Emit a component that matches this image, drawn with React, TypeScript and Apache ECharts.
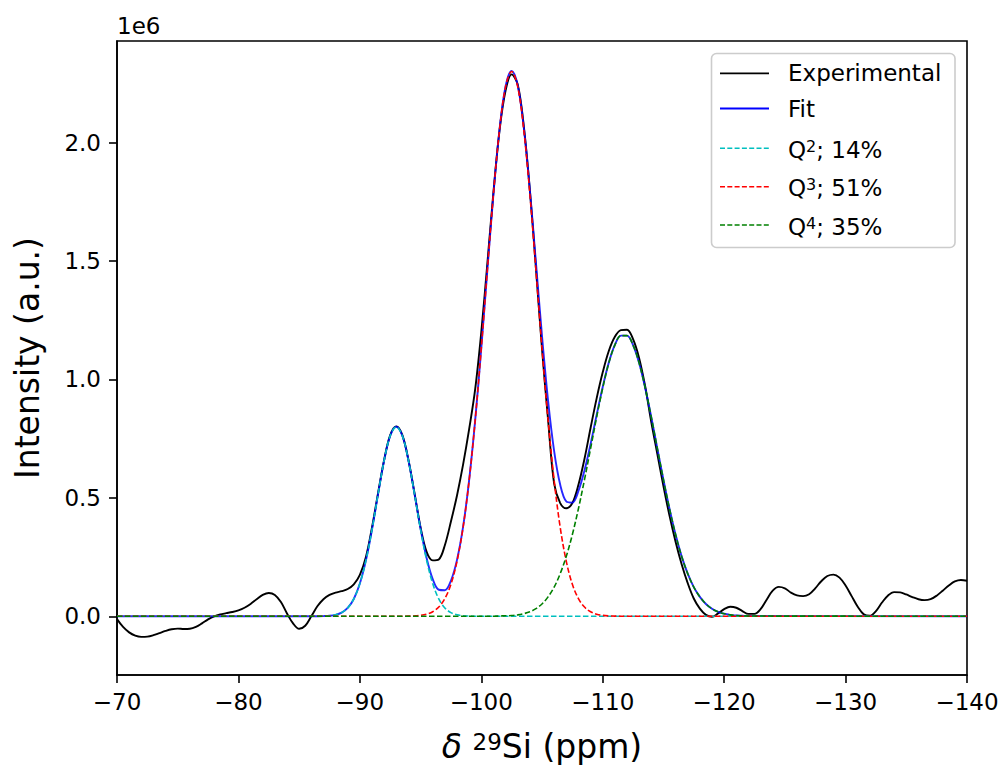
import React, { useEffect, useRef } from "react";
import * as echarts from "echarts";

// Chemical shift grid used by the fit and the three components (ppm)
const fitPpm = [
  -70, -86, -86.5, -87, -87.5, -88, -88.5, -89, -89.5, -90, -90.5, -91, -91.5, -92, -92.5,
  -93, -93.5, -94, -94.5, -95, -95.5, -96, -96.5, -97, -97.5, -98, -98.5, -99, -99.5,
  -100, -100.5, -101, -101.5, -102, -102.5, -103, -103.5, -104, -104.5, -105, -105.5,
  -106, -106.5, -107, -107.5, -108, -108.5, -109, -109.5, -110, -110.5, -111, -111.5,
  -112, -112.5, -113, -113.5, -114, -114.5, -115, -115.5, -116, -116.5, -117, -117.5,
  -118, -118.5, -119, -119.5, -120, -120.5, -121, -121.5, -122, -140,
];

// Q2 component (x1e6)
const q2 = [
  0, 0, 0.0002, 0.0007, 0.0022, 0.0061, 0.0153, 0.035, 0.073, 0.138, 0.236, 0.366, 0.516, 0.658, 0.762,
  0.8, 0.762, 0.658, 0.516, 0.366, 0.236, 0.138, 0.073, 0.035, 0.0153, 0.0061, 0.0022, 0.0007, 0.0002,
  0, 0, 0, 0, 0, 0, 0, 0, 0, 0, 0, 0,
  0, 0, 0, 0, 0, 0, 0, 0, 0, 0, 0, 0,
  0, 0, 0, 0, 0, 0, 0, 0, 0, 0, 0, 0,
  0, 0, 0, 0, 0, 0, 0, 0, 0, 0,
];

// Q3 component (x1e6)
const q3 = [
  0, 0, 0, 0, 0, 0, 0, 0, 0, 0, 0, 0, 0, 0, 0,
  0, 0, 0.0006, 0.0016, 0.0039, 0.0089, 0.0191, 0.0388, 0.0745, 0.135, 0.232, 0.375, 0.574, 0.829,
  1.132, 1.461, 1.782, 2.053, 2.236, 2.3, 2.236, 2.053, 1.782, 1.461, 1.132, 0.829,
  0.574, 0.375, 0.232, 0.135, 0.0745, 0.0388, 0.0191, 0.0089, 0.0039, 0.0016, 0.0006, 0,
  0, 0, 0, 0, 0, 0, 0, 0, 0, 0, 0, 0,
  0, 0, 0, 0, 0, 0, 0, 0, 0, 0,
];

// Q4 component (x1e6)
const q4 = [
  0, 0, 0, 0, 0, 0, 0, 0, 0, 0, 0, 0, 0, 0, 0,
  0, 0, 0, 0, 0, 0, 0, 0, 0, 0, 0, 0, 0, 0,
  0, 0, 0, 0.001, 0.002, 0.003, 0.006, 0.011, 0.019, 0.032, 0.052, 0.082,
  0.123, 0.18, 0.253, 0.345, 0.454, 0.577, 0.708, 0.841, 0.964, 1.069, 1.145, 1.185,
  1.185, 1.145, 1.069, 0.964, 0.841, 0.708, 0.577, 0.454, 0.345, 0.253, 0.18, 0.123,
  0.082, 0.052, 0.032, 0.019, 0.011, 0.006, 0.003, 0.002, 0.001, 0,
];

// Total fit (x1e6)
const fit = [
  0, 0, 0.0002, 0.0007, 0.0022, 0.0061, 0.0153, 0.035, 0.073, 0.138, 0.236, 0.366, 0.516, 0.658, 0.762,
  0.8, 0.762, 0.659, 0.518, 0.37, 0.245, 0.157, 0.112, 0.11, 0.15, 0.238, 0.377, 0.575, 0.829,
  1.132, 1.461, 1.782, 2.054, 2.238, 2.303, 2.242, 2.064, 1.801, 1.493, 1.184, 0.911,
  0.697, 0.555, 0.485, 0.48, 0.529, 0.616, 0.727, 0.85, 0.968, 1.071, 1.146, 1.185,
  1.185, 1.145, 1.069, 0.964, 0.841, 0.708, 0.577, 0.454, 0.345, 0.253, 0.18, 0.123,
  0.082, 0.052, 0.032, 0.019, 0.011, 0.006, 0.003, 0.002, 0.001, 0,
];

// Experimental spectrum
const expPpm = [
  -70, -70.5, -71, -71.5, -72, -72.5, -73, -73.5, -74, -74.5, -75, -75.5, -76, -76.5, -77, -77.5,
  -78, -78.5, -79, -79.5, -80, -80.5, -81, -81.5, -82, -82.5, -83, -83.5, -84, -84.5, -85, -85.5,
  -86, -86.5, -87, -87.5, -88, -88.5, -89, -89.5, -90, -90.5, -91, -91.5, -92, -92.5, -93, -93.5,
  -94, -94.5, -95, -95.5, -96, -96.5, -97, -97.5, -98, -98.5, -99, -99.5, -100, -100.5, -101, -101.5,
  -102, -102.5, -103, -103.5, -104, -104.5, -105, -105.5, -106, -106.5, -107, -107.5, -108, -108.5,
  -109, -109.5, -110, -110.5, -111, -111.5, -112, -112.5, -113, -113.5, -114, -114.5, -115, -115.5,
  -116, -116.5, -117, -117.5, -118, -118.5, -119, -119.5, -120, -120.5, -121, -121.5, -122, -122.5,
  -123, -123.5, -124, -124.5, -125, -125.5, -126, -126.5, -127, -127.5, -128, -128.5, -129, -129.5,
  -130, -130.5, -131, -131.5, -132, -132.5, -133, -133.5, -134, -134.5, -135, -135.5, -136, -136.5,
  -137, -137.5, -138, -138.5, -139, -139.5, -140,
];
const expIntensity = [
  -0.012, -0.045, -0.068, -0.082, -0.087, -0.086, -0.08, -0.071, -0.062, -0.055, -0.052, -0.054, -0.053, -0.045, -0.03, -0.013,
  0, 0.008, 0.013, 0.018, 0.025, 0.036, 0.052, 0.072, 0.09, 0.098, 0.09, 0.06, 0.012, -0.03, -0.053, -0.04,
  0, 0.042, 0.072, 0.09, 0.1, 0.106, 0.115, 0.135, 0.175, 0.25, 0.375, 0.52, 0.66, 0.765, 0.802, 0.765,
  0.66, 0.52, 0.375, 0.272, 0.236, 0.24, 0.3, 0.4, 0.51, 0.64, 0.79, 0.96, 1.2, 1.49, 1.79, 2.05,
  2.22, 2.288, 2.245, 2.07, 1.8, 1.47, 1.13, 0.83, 0.56, 0.478, 0.456, 0.478, 0.555, 0.665,
  0.795, 0.92, 1.03, 1.12, 1.18, 1.208, 1.21, 1.17, 1.09, 0.97, 0.82, 0.685, 0.55, 0.425,
  0.315, 0.22, 0.14, 0.075, 0.032, 0.006, -0.002, 0.012, 0.03, 0.04, 0.036, 0.022, 0.01, 0.01,
  0.03, 0.07, 0.108, 0.124, 0.118, 0.1, 0.088, 0.085, 0.093, 0.118, 0.148, 0.17, 0.176, 0.163,
  0.13, 0.085, 0.04, 0.008, 0.002, 0.022, 0.058, 0.088, 0.102, 0.101, 0.092, 0.081, 0.072, 0.068,
  0.072, 0.087, 0.108, 0.13, 0.147, 0.153, 0.15,
];

const yTicks = [0, 0.5, 1.0, 1.5, 2.0];
const seriesNames = ["Experimental", "Fit", "Q2", "Q3", "Q4"];
const legendTexts = ["Experimental", "Fit", "Q{sup|2}; 14%", "Q{sup|3}; 51%", "Q{sup|4}; 35%"];
const colors = ["#000000", "#0000ff", "#00bfbf", "#ff0000", "#008000"];

const FONT = "DejaVu Sans";

function pairs(xs: number[], ys: number[]) {
  return xs.map((x, i) => [x, ys[i]]);
}

export default function App() {
  const ref = useRef<HTMLDivElement>(null);

  useEffect(() => {
    if (!ref.current) return;
    const chart = echarts.init(ref.current, null, { renderer: "svg" });

    const dash = [5.5, 2.5];
    const lineBase = {
      type: "line" as const,
      symbol: "none",
      showSymbol: false,
      smooth: 0.35,
      silent: true,
    };

    const legendRowsY = [73.3, 108.5, 148.3, 186.7, 225];
    const legendGraphics: any[] = [
      {
        type: "rect",
        shape: { x: 711.5, y: 53.5, width: 243.5, height: 194, r: 5 },
        style: { fill: "rgba(255,255,255,0.8)", stroke: "#cccccc", lineWidth: 1.6 },
        z: 100,
      },
    ];
    legendTexts.forEach((t, i) => {
      const y = legendRowsY[i];
      legendGraphics.push({
        type: "line",
        shape: { x1: 720, y1: y, x2: 769, y2: y },
        style: {
          stroke: colors[i],
          lineWidth: i < 2 ? 1.8 : 1.6,
          lineDash: i < 2 ? null : [5, 2.3],
        },
        z: 101,
      });
      legendGraphics.push({
        type: "text",
        x: 788,
        y: i < 2 ? y : y + 1.5,
        style: {
          text: t,
          fontSize: 23,
          fontFamily: FONT,
          fill: "#000",
          align: "left",
          verticalAlign: "middle",
          rich: {
            sup: { fontSize: 16, lineHeight: 12, fontFamily: FONT, verticalAlign: "top", fill: "#000" },
          },
        },
        z: 101,
      });
    });

    const option: any = {
      animation: false,
      backgroundColor: "#ffffff",
      grid: {
        left: 117,
        right: 41,
        top: 41,
        bottom: 90,
        show: true,
        containLabel: false,
        outerBoundsMode: "none",
        borderColor: "#000",
        borderWidth: 1.6,
        backgroundColor: "transparent",
      },
      xAxis: {
        type: "value",
        min: -140,
        max: -70,
        interval: 10,
        inverse: true,
        axisLine: { show: true, onZero: false, lineStyle: { color: "#000", width: 1.6 } },
        axisTick: { show: true, length: 8, lineStyle: { color: "#000", width: 1.6 } },
        axisLabel: {
          formatter: (v: number) => (v < 0 ? "\u2212" + Math.abs(v) : String(v)),
          fontSize: 23,
          fontFamily: FONT,
          color: "#000",
          margin: 15,
          showMinLabel: true,
          showMaxLabel: true,
        },
        splitLine: { show: false },
        name: "{d|\u03b4} {sup|29}Si (ppm)",
        nameLocation: "middle",
        nameGap: 55,
        nameTextStyle: {
          fontSize: 33,
          fontFamily: FONT,
          color: "#000",
          rich: {
            d: { fontSize: 33, fontFamily: FONT, fontStyle: "italic", color: "#000" },
            sup: { fontSize: 23, lineHeight: 18, fontFamily: FONT, verticalAlign: "top", color: "#000" },
          },
        },
      },
      yAxis: {
        type: "value",
        min: -0.248,
        max: 2.429,
        axisLine: { show: true, onZero: false, lineStyle: { color: "#000", width: 1.6 } },
        axisTick: {
          show: true,
          length: 8,
          customValues: yTicks,
          lineStyle: { color: "#000", width: 1.6 },
        },
        axisLabel: {
          customValues: yTicks,
          formatter: (v: number) => v.toFixed(1),
          fontSize: 23,
          fontFamily: FONT,
          color: "#000",
          margin: 16,
        },
        splitLine: { show: false },
        name: "Intensity (a.u.)",
        nameLocation: "middle",
        nameGap: 73,
        nameTextStyle: { fontSize: 33, fontFamily: FONT, color: "#000" },
      },
      series: [
        {
          ...lineBase,
          name: seriesNames[0],
          data: pairs(expPpm, expIntensity),
          lineStyle: { color: colors[0], width: 1.9 },
          z: 2,
        },
        {
          ...lineBase,
          name: seriesNames[1],
          data: pairs(fitPpm, fit),
          lineStyle: { color: colors[1], width: 1.9, opacity: 0.85 },
          z: 3,
        },
        {
          ...lineBase,
          name: seriesNames[2],
          data: pairs(fitPpm, q2),
          lineStyle: { color: colors[2], width: 1.6, type: dash },
          z: 4,
        },
        {
          ...lineBase,
          name: seriesNames[3],
          data: pairs(fitPpm, q3),
          lineStyle: { color: colors[3], width: 1.6, type: dash },
          z: 5,
        },
        {
          ...lineBase,
          name: seriesNames[4],
          data: pairs(fitPpm, q4),
          lineStyle: { color: colors[4], width: 1.6, type: dash },
          z: 6,
        },
      ],
      graphic: [
        {
          type: "text",
          x: 117,
          y: 25.5,
          style: {
            text: "1e6",
            fontSize: 23,
            fontFamily: FONT,
            fill: "#000",
            align: "left",
            verticalAlign: "middle",
          },
        },
        ...legendGraphics,
      ],
    };

    chart.setOption(option);
    return () => chart.dispose();
  }, []);

  return (
    <div
      ref={ref}
      style={{ position: "absolute", left: 0, top: 0, width: 1008, height: 765, background: "#fff" }}
    />
  );
}
